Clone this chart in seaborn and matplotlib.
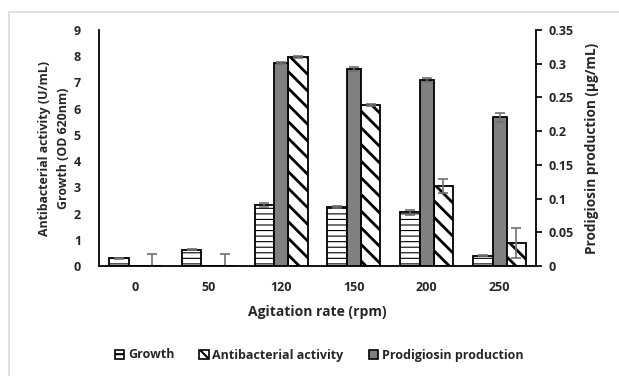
import numpy as np
import pandas as pd
import matplotlib
matplotlib.use("Agg")
import matplotlib.pyplot as plt
import seaborn as sns
from matplotlib.patches import Rectangle, Patch

# ---- data ----
categories = ["0", "50", "120", "150", "200", "250"]
growth = [0.30, 0.62, 2.33, 2.26, 2.05, 0.40]
growth_err = [0.02, 0.02, 0.08, 0.03, 0.10, 0.03]
antibacterial = [0.0, 0.0, 7.97, 6.14, 3.05, 0.87]
antibacterial_err = [0.45, 0.47, 0.05, 0.02, 0.25, 0.57]
prodigiosin = [0.0, 0.0, 0.301, 0.292, 0.276, 0.2205]
prodigiosin_err = [0.0, 0.0, 0.002, 0.003, 0.003, 0.007]
left_ticks = list(range(0, 10))
right_ticks = [0, 0.05, 0.1, 0.15, 0.2, 0.25, 0.3, 0.35]
right_ticklabels = ["0", "0.05", "0.1", "0.15", "0.2", "0.25", "0.3", "0.35"]

sns.set_theme(style="white")
plt.rcParams["font.family"] = ["Open Sans", "DejaVu Sans"]
plt.rcParams["font.weight"] = "bold"
plt.rcParams["hatch.color"] = "black"

fig = plt.figure(figsize=(6.19, 3.76), dpi=100)
ax = fig.add_axes([99 / 619, 1 - 266 / 376, (536 - 99) / 619, (266 - 30) / 376])
ax2 = ax.twinx()

idx = np.arange(len(categories), dtype=float)
off = 0.228
w_side = 0.27
w_mid = 0.19

df = pd.DataFrame({"pos": idx, "growth": growth, "anti": antibacterial, "prod": prodigiosin})

edge = "black"
lw_edge = 1.3
H_GROWTH = "---"
H_ANTI = "\\\\"

plt.rcParams["hatch.linewidth"] = 0.8
sns.barplot(x=df["pos"] - off, y=df["growth"], native_scale=True, width=w_side,
            color="white", edgecolor=edge, linewidth=lw_edge,
            errorbar=None, ax=ax, saturation=1)
for p in ax.patches:
    p.set_hatch(H_GROWTH)
n_g = len(ax.patches)
plt.rcParams["hatch.linewidth"] = 2.0
sns.barplot(x=df["pos"] + off, y=df["anti"], native_scale=True, width=w_side,
            color="white", edgecolor=edge, linewidth=lw_edge,
            errorbar=None, ax=ax, saturation=1)
for p in ax.patches[n_g:]:
    p.set_hatch(H_ANTI)
sns.barplot(x=df["pos"], y=df["prod"], native_scale=True, width=w_mid,
            color="#808080", edgecolor=edge, linewidth=lw_edge,
            errorbar=None, ax=ax2, saturation=1)

errc = "#6f6f6f"
ax.errorbar(idx - off, growth, yerr=growth_err, fmt="none", ecolor=errc, elinewidth=1.2, capsize=3.5, capthick=1.2)
ax.errorbar(idx + off, antibacterial, yerr=antibacterial_err, fmt="none", ecolor=errc, elinewidth=1.2, capsize=3.5, capthick=1.2)
mask = np.array(prodigiosin) > 0
ax2.errorbar(idx[mask], np.array(prodigiosin)[mask], yerr=np.array(prodigiosin_err)[mask], fmt="none",
             ecolor=errc, elinewidth=1.2, capsize=3.5, capthick=1.2)

for a in (ax, ax2):
    a.set_xlim(-0.5, len(categories) - 0.5)
ax.set_ylim(0, 9)
ax2.set_ylim(0, 0.35)
ax.set_yticks(left_ticks)
ax.set_yticklabels([str(t) for t in left_ticks])
ax2.set_yticks(right_ticks)
ax2.set_yticklabels(right_ticklabels)
ax.set_xticks(idx)
ax.set_xticklabels(categories)

fs = 9
ax.tick_params(axis="y", length=0, pad=13, labelsize=fs)
ax.tick_params(axis="x", length=0, pad=11, labelsize=fs)
ax2.tick_params(axis="y", length=4, width=1.2, color="black", direction="out", pad=5, labelsize=fs, right=True)
for t in ax.get_xticklabels() + ax.get_yticklabels() + ax2.get_yticklabels():
    t.set_fontweight("bold")

for a in (ax, ax2):
    a.spines["top"].set_visible(False)
    for s in ("left", "right", "bottom"):
        a.spines[s].set_color("black")
        a.spines[s].set_linewidth(1.3)
ax.spines["right"].set_visible(False)
ax2.spines["left"].set_visible(False)
ax2.spines["bottom"].set_visible(False)

ax.set_xlabel("Agitation rate (rpm)", fontsize=10, fontweight="bold", labelpad=8)
ax.set_ylabel("Antibacterial activity (U/mL)\nGrowth (OD 620nm)", fontsize=8.9, fontweight="bold",
              labelpad=3, linespacing=1.6)
ax2.set_ylabel("Prodigiosin production (µg/mL)", fontsize=9.8, fontweight="bold", labelpad=8)
ax.grid(False)
ax2.grid(False)

# legend
plt.rcParams["hatch.linewidth"] = 0.8
h1 = Patch(facecolor="white", edgecolor="black", hatch="--", linewidth=1.2, label="Growth")
plt.rcParams["hatch.linewidth"] = 1.5
h2 = Patch(facecolor="white", edgecolor="black", hatch="\\\\", linewidth=1.2, label="Antibacterial activity")
h3 = Patch(facecolor="#808080", edgecolor="black", linewidth=1.2, label="Prodigiosin production")
fig.legend(handles=[h1, h2, h3], loc="center", bbox_to_anchor=(319 / 619, 1 - 355 / 376), ncol=3,
           frameon=False, handlelength=0.75, handleheight=0.75, handletextpad=0.3, columnspacing=2.0,
           prop={"size": 9, "weight": "bold"})

# chart area border
fig.patches.append(Rectangle((9 / 619, -0.1), 1.2, 1 - 12 / 376 + 0.1, transform=fig.transFigure,
                             fill=False, edgecolor="#d9d9d9", linewidth=1.2, zorder=0))

fig.savefig("out.png", dpi=100)
